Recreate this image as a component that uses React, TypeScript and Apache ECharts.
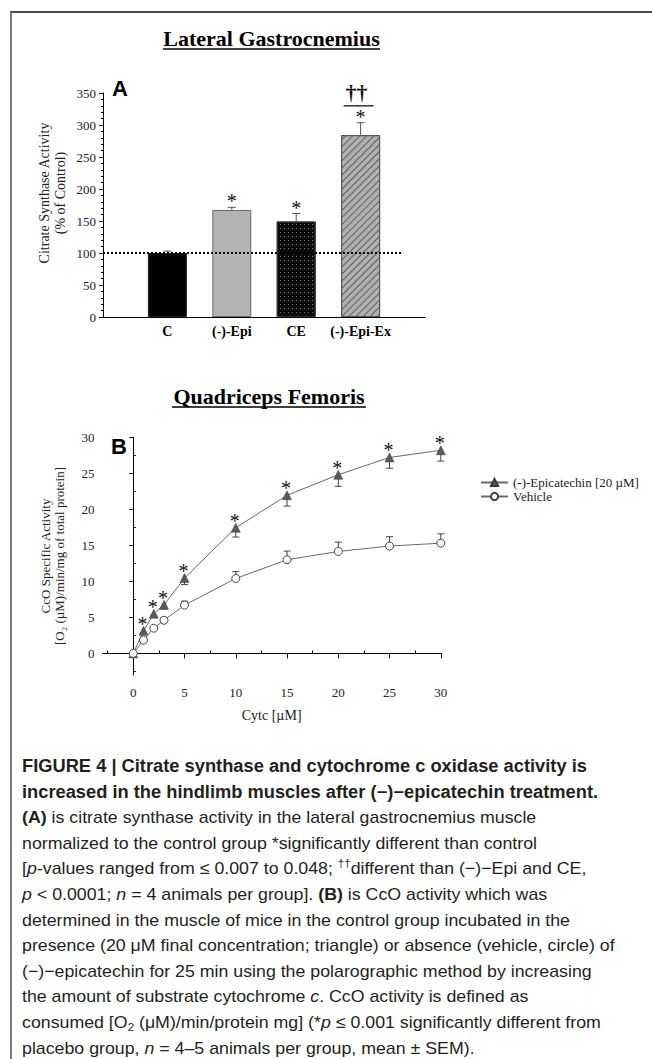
import React, { useEffect, useRef } from 'react';
import * as echarts from 'echarts';

// ---------------- Panel A data ----------------
const categoriesA = ['C', '(-)-Epi', 'CE', '(-)-Epi-Ex'];
const citrateSynthase = [100, 167.3, 149.2, 284.2];
const citrateSynthaseSem = [3, 4, 12.5, 19.3];
const significanceA = ['', '*', '*', '*'];
const daggerA = ['', '', '', '\u2020\u2020'];
const daggerBracketLevel = 330;
const controlLevel = 100;
const controlLineEnd = 4.66;
const yTicksA = { min: 0, max: 350, step: 50 };

// ---------------- Panel B data ----------------
const cytc = [0, 1, 2, 3, 5, 10, 15, 20, 25, 30];
const epicatechin = [0, 3.15, 5.5, 6.75, 10.45, 17.45, 21.95, 24.8, 27.2, 28.2];
const epicatechinSem = [0, 0.3, 0.3, 0.6, 0.9, 1.3, 1.5, 1.6, 1.5, 1.5];
const vehicle = [0, 1.85, 3.5, 4.6, 6.7, 10.4, 13.0, 14.15, 14.9, 15.3];
const vehicleSem = [0, 0.2, 0.2, 0.35, 0.55, 0.95, 1.2, 1.3, 1.3, 1.3];
const significanceB = ['', '*', '*', '*', '*', '*', '*', '*', '*', '*'];
const xTicksB = [0, 5, 10, 15, 20, 25, 30];
const xMinorB = [-2.5, 2.5, 7.5, 12.5, 17.5, 22.5, 27.5];
const yTicksB = [0, 5, 10, 15, 20, 25, 30];
const yMinorB = [-2.5, 2.5, 7.5, 12.5, 17.5, 22.5, 27.5];
const seriesNamesB = ['(-)-Epicatechin [20 \u00b5M]', 'Vehicle'];

const SERIF = '"Liberation Serif", "Times New Roman", serif';
const SANS = '"Liberation Sans", Arial, sans-serif';

const barStylesA = [
  { color: '#000000', borderColor: '#222', borderWidth: 1 },
  { color: '#b3b3b3', borderColor: '#6a6a6a', borderWidth: 1 },
  {
    color: '#0b0b0b', borderColor: '#333', borderWidth: 1,
    decal: { symbol: 'rect', symbolSize: 1, dashArrayX: [1, 3], dashArrayY: [1, 3], color: '#7a7a7a' },
  },
  {
    color: '#b0b0b0', borderColor: '#555', borderWidth: 1,
    decal: { symbol: 'rect', symbolSize: 1, dashArrayX: [1, 0], dashArrayY: [1, 4], rotation: -Math.PI / 4, color: '#5e5e5e' },
  },
];

function errorBarsB(values: number[], sems: number[], dir: number, stars: string[] | null) {
  return {
    type: 'custom',
    xAxisIndex: 1,
    yAxisIndex: 1,
    z: 3,
    silent: true,
    data: values.map((v, i) => [cytc[i], v, sems[i]]),
    encode: { x: 0, y: 1 },
    renderItem: (params: any, api: any) => {
      const x = api.value(0);
      const v = api.value(1);
      const e = api.value(2);
      const i = params.dataIndex;
      const p0 = api.coord([x, v]);
      const p1 = api.coord([x, v + dir * e]);
      const children: any[] = [];
      if (e > 0) {
        children.push({ type: 'line', shape: { x1: p0[0], y1: p0[1], x2: p1[0], y2: p1[1] }, style: { stroke: '#444', lineWidth: 1 } });
        children.push({ type: 'line', shape: { x1: p1[0] - 3.5, y1: p1[1], x2: p1[0] + 3.5, y2: p1[1] }, style: { stroke: '#444', lineWidth: 1 } });
      }
      if (stars && stars[i]) {
        children.push({
          type: 'text', x: p0[0] - 1, y: p0[1] - 7,
          style: { text: stars[i], font: `20px ${SERIF}`, fill: '#111', align: 'center', verticalAlign: 'middle' },
        });
      }
      return { type: 'group', children };
    },
  };
}

function buildOption(): any {
  return {
    animation: false,
    backgroundColor: 'transparent',
    grid: [
      { left: 103, top: 93, width: 322, height: 224 },
      { left: 102.5, top: 437.3, width: 338.3, height: 237.7 },
    ],
    legend: {
      data: seriesNamesB,
      orient: 'vertical',
      left: 480,
      top: 476,
      itemWidth: 27,
      itemHeight: 9,
      itemGap: 1,
      padding: 0,
      textStyle: { fontFamily: SERIF, fontSize: 13, color: '#222' },
    },
    xAxis: [
      {
        type: 'value', gridIndex: 0, min: 0, max: 5, interval: 1,
        axisLine: { show: true, lineStyle: { color: '#000', width: 1 } },
        axisTick: { show: false },
        splitLine: { show: false },
        axisLabel: {
          formatter: (v: number) => categoriesA[v - 1] ?? '',
          fontFamily: SERIF, fontWeight: 'bold', fontSize: 14, color: '#000', margin: 7,
        },
      },
      {
        type: 'value', gridIndex: 1, min: -3, max: 30,
        axisLine: { show: true, lineStyle: { color: '#000', width: 1 } },
        axisTick: { show: true, customValues: xTicksB, length: 5, lineStyle: { color: '#000' } },
        axisLabel: { customValues: xTicksB, fontFamily: SERIF, fontSize: 13, color: '#222', margin: 11 },
        splitLine: { show: false },
        name: 'Cytc [\u00b5M]', nameLocation: 'middle', nameGap: 33,
        nameTextStyle: { fontFamily: SERIF, fontSize: 14, color: '#222' },
      },
      {
        type: 'value', gridIndex: 1, min: -3, max: 30,
        axisLine: { show: false },
        axisTick: { show: true, customValues: xMinorB, length: 3, lineStyle: { color: '#000' } },
        axisLabel: { show: false },
        splitLine: { show: false },
      },
    ],
    yAxis: [
      {
        type: 'value', gridIndex: 0, min: yTicksA.min, max: yTicksA.max, interval: yTicksA.step,
        axisLine: { show: true, lineStyle: { color: '#000', width: 1 } },
        axisTick: { show: true, length: 4, lineStyle: { color: '#000' } },
        minorTick: { show: true, splitNumber: 5, length: 2, lineStyle: { color: '#000' } },
        splitLine: { show: false },
        axisLabel: { fontFamily: SERIF, fontSize: 13, color: '#222', margin: 7 },
      },
      {
        type: 'value', gridIndex: 1, min: -3, max: 30,
        axisLine: { show: true, lineStyle: { color: '#000', width: 1 } },
        axisTick: { show: true, customValues: yTicksB, length: 4, lineStyle: { color: '#000' } },
        axisLabel: { customValues: yTicksB, fontFamily: SERIF, fontSize: 13, color: '#222', margin: 8 },
        splitLine: { show: false },
      },
      {
        type: 'value', gridIndex: 1, min: -3, max: 30,
        axisLine: { show: false },
        axisTick: { show: true, customValues: yMinorB, length: 2.5, lineStyle: { color: '#000' } },
        axisLabel: { show: false },
        splitLine: { show: false },
      },
    ],
    series: [
      {
        type: 'bar',
        xAxisIndex: 0,
        yAxisIndex: 0,
        barWidth: 39,
        silent: true,
        data: categoriesA.map((c, i) => ({ name: c, value: [i + 1, citrateSynthase[i]], itemStyle: barStylesA[i] })),
        markLine: {
          silent: true,
          symbol: 'none',
          label: { show: false },
          lineStyle: { type: 'dotted', color: '#000', width: 2 },
          data: [[{ coord: [0, controlLevel] }, { coord: [controlLineEnd, controlLevel] }]],
        },
      },
      {
        type: 'custom',
        xAxisIndex: 0,
        yAxisIndex: 0,
        z: 4,
        silent: true,
        data: citrateSynthase.map((v, i) => [i + 1, v, citrateSynthaseSem[i]]),
        encode: { x: 0, y: 1 },
        renderItem: (params: any, api: any) => {
          const x = api.value(0);
          const v = api.value(1);
          const e = api.value(2);
          const i = params.dataIndex;
          const p0 = api.coord([x, v]);
          const p1 = api.coord([x, v + e]);
          const children: any[] = [
            { type: 'line', shape: { x1: p0[0], y1: p0[1], x2: p1[0], y2: p1[1] }, style: { stroke: '#555', lineWidth: 1 } },
            { type: 'line', shape: { x1: p1[0] - 4, y1: p1[1], x2: p1[0] + 4, y2: p1[1] }, style: { stroke: '#555', lineWidth: 1 } },
          ];
          if (significanceA[i]) {
            children.push({
              type: 'text', x: p1[0], y: p1[1] - 6,
              style: { text: significanceA[i], font: `20px ${SERIF}`, fill: '#111', align: 'center', verticalAlign: 'middle' },
            });
          }
          if (daggerA[i]) {
            const b = api.coord([x, daggerBracketLevel]);
            children.push({ type: 'line', shape: { x1: b[0] - 17, y1: b[1], x2: b[0] + 13, y2: b[1] }, style: { stroke: '#333', lineWidth: 1.5 } });
            children.push({
              type: 'text', x: b[0] - 4, y: b[1] - 2,
              style: { text: daggerA[i], font: `bold 22px ${SERIF}`, fill: '#111', align: 'center', verticalAlign: 'bottom' },
            });
          }
          return { type: 'group', children };
        },
      },
      {
        name: seriesNamesB[0],
        type: 'line',
        xAxisIndex: 1,
        yAxisIndex: 1,
        z: 5,
        symbol: 'triangle',
        symbolSize: 9,
        showAllSymbol: true,
        itemStyle: { color: '#5a5a5a', borderColor: '#3a3a3a', borderWidth: 0.5 },
        lineStyle: { color: '#6a6a6a', width: 1 },
        data: cytc.map((x, i) => [x, epicatechin[i]]),
      },
      {
        name: seriesNamesB[1],
        type: 'line',
        xAxisIndex: 1,
        yAxisIndex: 1,
        z: 5,
        symbol: 'circle',
        symbolSize: 8,
        showAllSymbol: true,
        itemStyle: { color: '#ffffff', borderColor: '#444', borderWidth: 1 },
        lineStyle: { color: '#6a6a6a', width: 1 },
        data: cytc.map((x, i) => [x, vehicle[i]]),
      },
      errorBarsB(epicatechin, epicatechinSem, -1, significanceB),
      errorBarsB(vehicle, vehicleSem, 1, null),
    ],
    graphic: [
      {
        type: 'text', x: 271.5, y: 38,
        style: { text: 'Lateral Gastrocnemius', font: `bold 22px ${SERIF}`, fill: '#000', align: 'center', verticalAlign: 'middle' },
      },
      { type: 'line', shape: { x1: 163, y1: 49, x2: 380, y2: 49 }, style: { stroke: '#000', lineWidth: 1.5 } },
      {
        type: 'text', x: 269, y: 396,
        style: { text: 'Quadriceps Femoris', font: `bold 22px ${SERIF}`, fill: '#000', align: 'center', verticalAlign: 'middle' },
      },
      { type: 'line', shape: { x1: 172, y1: 407, x2: 366, y2: 407 }, style: { stroke: '#000', lineWidth: 1.5 } },
      {
        type: 'text', x: 112, y: 88,
        style: { text: 'A', font: `bold 22px ${SANS}`, fill: '#000', align: 'left', verticalAlign: 'middle' },
      },
      {
        type: 'text', x: 111, y: 446,
        style: { text: 'B', font: `bold 22px ${SANS}`, fill: '#000', align: 'left', verticalAlign: 'middle' },
      },
      {
        type: 'text', x: 52, y: 193, rotation: Math.PI / 2,
        style: {
          text: 'Citrate Synthase Activity\n(% of Control)', font: `14px ${SERIF}`, fill: '#222',
          align: 'center', verticalAlign: 'middle', lineHeight: 16,
        },
      },
      {
        type: 'text', x: 52, y: 556, rotation: Math.PI / 2,
        style: {
          text: 'CcO Specific Activity\n[O\u2082 (\u00b5M)/min/mg of total protein]', font: `13px ${SERIF}`, fill: '#222',
          align: 'center', verticalAlign: 'middle', lineHeight: 14,
        },
      },
    ],
  };
}

const captionBold = [
  'FIGURE 4 | Citrate synthase and cytochrome c oxidase activity is',
  'increased in the hindlimb muscles after (\u2212)\u2212epicatechin treatment.',
];

export default function App() {
  const chartRef = useRef<HTMLDivElement>(null);
  const capRef = useRef<HTMLDivElement>(null);
  const measureRef = useRef<HTMLSpanElement>(null);

  useEffect(() => {
    const chart = echarts.init(chartRef.current as HTMLDivElement, null, { renderer: 'svg' });
    chart.setOption(buildOption());
    if (measureRef.current && capRef.current) {
      const w = measureRef.current.getBoundingClientRect().width;
      if (w > 0) capRef.current.style.transform = `scaleX(${515 / w})`;
    }
    return () => chart.dispose();
  }, []);

  const line: React.CSSProperties = { whiteSpace: 'nowrap', height: 25.6, lineHeight: '25.6px', overflow: 'visible' };
  const supStyle: React.CSSProperties = { fontSize: 11, lineHeight: 0, verticalAlign: 'baseline', position: 'relative', top: -7 };
  const subStyle: React.CSSProperties = { fontSize: 11, lineHeight: 0, verticalAlign: 'baseline', position: 'relative', top: 3 };

  return (
    <div style={{ position: 'absolute', left: 0, top: 0, width: 652, height: 1059, overflow: 'hidden', background: '#fff' }}>
      <div style={{ position: 'absolute', left: 10, top: 11, width: 700, height: 1100, borderLeft: '2px solid #7a7a7a', borderTop: '2px solid #4a4a4a' }} />
      <div ref={chartRef} style={{ position: 'absolute', left: 0, top: 0, width: 652, height: 740 }} />
      <div
        ref={capRef}
        style={{
          position: 'absolute', left: 22, top: 754, transformOrigin: 'left top',
          fontFamily: '"Liberation Sans Narrow", "Liberation Sans", Arial, sans-serif', fontSize: 17, color: '#231f20',
        }}
      >
        <div style={{ ...line, fontWeight: 'bold', fontSize: 17.5 }}>{captionBold[0]}</div>
        <div style={{ ...line, fontWeight: 'bold', fontSize: 17.5 }}>{captionBold[1]}</div>
        <div style={line}><b>(A)</b> is citrate synthase activity in the lateral gastrocnemius muscle</div>
        <div style={line}><span ref={measureRef}>normalized to the control group *significantly different than control</span></div>
        <div style={line}>[<i>p</i>-values ranged from {'\u2264'} 0.007 to 0.048; <span style={supStyle}>{'\u2020\u2020'}</span>different than ({'\u2212'}){'\u2212'}Epi and CE,</div>
        <div style={line}><i>p</i> &lt; 0.0001; <i>n</i> = 4 animals per group]. <b>(B)</b> is CcO activity which was</div>
        <div style={line}>determined in the muscle of mice in the control group incubated in the</div>
        <div style={line}>presence (20 {'\u03bc'}M final concentration; triangle) or absence (vehicle, circle) of</div>
        <div style={line}>({'\u2212'}){'\u2212'}epicatechin for 25 min using the polarographic method by increasing</div>
        <div style={line}>the amount of substrate cytochrome <i>c</i>. CcO activity is defined as</div>
        <div style={line}>consumed [O<span style={subStyle}>2</span> ({'\u03bc'}M)/min/protein mg] (*<i>p</i> {'\u2264'} 0.001 significantly different from</div>
        <div style={line}>placebo group, <i>n</i> = 4{'\u2013'}5 animals per group, mean {'\u00b1'} SEM).</div>
      </div>
    </div>
  );
}
